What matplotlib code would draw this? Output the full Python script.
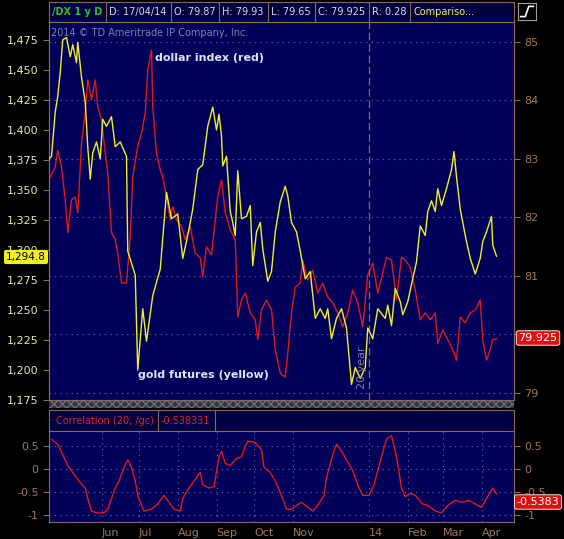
import matplotlib
matplotlib.use("Agg")
import matplotlib.pyplot as plt
import numpy as np
import datetime as dt
from matplotlib.patches import Rectangle

start = dt.date(2013, 4, 20)

gold_days = [0,2,5,7,9,11,14,17,19,22,23,26,29,31,33,35,38,41,43,46,50,53,57,62,63,69,71,75,78,83,89,94,98,103,107,111,115,119,123,127,131,134,136,138,139,142,145,147,149,151,154,158,161,163,166,169,171,175,178,181,185,189,191,194,198,201,205,209,213,217,221,223,226,230,234,238,242,245,249,253,255,259,263,269,271,274,277,281,283,287,291,294,297,301,303,306,309,311,314,318,322,324,326,329,333,337,341,345,347,350,354,355,358]
gold = [1376,1378,1415,1428,1448,1475,1477,1461,1471,1456,1473,1444,1423,1386,1359,1381,1390,1376,1409,1403,1411,1386,1390,1378,1299,1279,1200,1251,1224,1262,1284,1348,1326,1330,1293,1312,1334,1367,1371,1403,1419,1400,1413,1395,1370,1378,1332,1323,1312,1366,1326,1328,1337,1287,1315,1323,1301,1274,1282,1315,1340,1353,1345,1323,1315,1299,1276,1282,1243,1251,1243,1251,1226,1243,1251,1235,1188,1202,1193,1202,1235,1226,1251,1243,1254,1237,1268,1257,1246,1257,1276,1290,1320,1312,1332,1341,1332,1351,1337,1351,1367,1382,1361,1334,1312,1293,1280,1293,1307,1315,1328,1304,1294.8]

dx_days = [1,5,7,10,13,15,18,21,23,25,26,29,31,34,37,39,42,45,47,50,53,55,58,62,65,67,71,74,77,79,82,83,86,89,91,94,97,99,102,106,109,113,117,121,123,126,130,133,135,138,141,145,149,151,154,157,161,165,167,170,174,178,181,185,189,191,194,197,201,203,207,211,215,219,223,227,231,235,239,243,247,251,255,259,263,267,270,274,278,282,285,289,293,297,301,305,309,311,315,319,323,326,329,333,337,341,345,347,350,353,355,358]
dx = [82.69,82.86,83.15,82.86,82.30,81.74,82.30,82.35,82.08,82.86,83.27,83.79,84.35,84.01,84.35,83.89,83.67,83.10,82.76,81.74,81.62,81.39,80.88,80.88,81.67,82.69,83.21,83.44,83.79,84.52,84.86,83.89,83.10,82.81,82.69,82.35,81.96,82.18,81.96,81.84,81.62,81.84,81.39,81.31,80.98,81.50,81.36,81.96,82.35,82.64,82.08,81.79,81.62,80.30,80.59,80.71,80.37,80.25,79.91,80.42,80.59,80.42,79.74,79.34,79.27,79.68,80.37,80.81,80.88,81.27,80.93,81.10,80.71,80.88,80.64,80.54,80.37,80.13,80.37,80.76,80.54,80.13,81.02,81.22,80.71,81.05,81.32,81.27,80.59,81.32,81.27,81.15,80.76,80.25,80.37,80.25,80.37,79.85,80.08,79.91,79.74,79.56,80.30,80.20,80.37,80.42,80.59,79.91,79.56,79.74,79.91,79.925]

corr_days = [2,7,11,15,20,24,29,31,34,38,44,47,50,53,56,60,63,66,69,71,76,82,87,92,96,100,105,107,112,116,121,123,128,132,136,138,141,145,150,154,157,159,165,170,172,177,181,186,190,194,198,202,207,211,215,220,222,227,230,234,238,243,247,251,256,260,263,266,270,274,278,282,285,289,293,299,303,309,314,319,325,330,336,341,346,350,355,358]
corr = [0.65,0.54,0.31,0.08,-0.11,-0.26,-0.41,-0.64,-0.91,-0.95,-0.95,-0.87,-0.64,-0.41,-0.26,0.04,0.20,0.04,-0.26,-0.57,-0.91,-0.87,-0.76,-0.57,-0.72,-0.87,-0.91,-0.64,-0.41,-0.26,-0.07,-0.34,-0.41,-0.38,0.27,0.39,0.12,0.08,0.23,0.27,0.50,0.61,0.58,0.42,0.04,-0.07,-0.26,-0.57,-0.87,-0.87,-0.79,-0.72,-0.83,-0.91,-0.79,-0.57,-0.19,0.31,0.54,0.39,0.20,-0.03,-0.34,-0.57,-0.57,-0.34,-0.03,0.27,0.65,0.73,0.27,-0.41,-0.60,-0.53,-0.57,-0.76,-0.79,-0.91,-0.95,-0.79,-0.68,-0.72,-0.68,-0.76,-0.83,-0.64,-0.41,-0.5383]

gold_ticks = list(range(1175, 1476, 25))
dx_ticks = [79, 80, 81, 82, 83, 84, 85]
corr_ticks = [-1, -0.5, 0, 0.5]
month_labels = ["Jun", "Jul", "Aug", "Sep", "Oct", "Nov", "14", "Feb", "Mar", "Apr"]
month_dates = [dt.date(2013,6,1), dt.date(2013,7,1), dt.date(2013,8,1), dt.date(2013,9,1), dt.date(2013,10,1),
               dt.date(2013,11,1), dt.date(2014,1,1), dt.date(2014,2,1), dt.date(2014,3,1), dt.date(2014,4,1)]
header_cells = ["/DX 1 y D", "D: 17/04/14", "O: 79.87", "H: 79.93", "L: 79.65", "C: 79.925", "R: 0.28", "Compariso..."]

def todates(days):
    return [start + dt.timedelta(days=d) for d in days]

W, H = 564, 539
BG = "#00005a"
SP = "#8a6a50"
TICKC = "#a07858"
fig = plt.figure(figsize=(W/100, H/100), dpi=100, facecolor="black")

def fx(px): return px / W
def fy(py): return 1 - py / H

xl = (start, start + dt.timedelta(days=372))

ax = fig.add_axes([fx(49), fy(400), fx(514-49), (400-22)/H], facecolor=BG)
ax2 = ax.twinx()
ax.set_zorder(2); ax2.set_zorder(1)
ax.patch.set_visible(False)
ax2.set_facecolor(BG)
ax2.patch.set_visible(True)
ax.plot(todates(gold_days), gold, color="#f0f020", lw=1.0, zorder=3)
ax2.plot(todates(dx_days), dx, color="#e01818", lw=1.0)
ax.set_xlim(*xl)
ax.set_ylim(1176.7, 1489.9)
ax2.set_ylim(78.88, 85.34)
ax.set_yticks(gold_ticks)
ax.set_yticklabels([f"{v:,}" for v in gold_ticks], fontsize=8)
ax2.set_yticks(dx_ticks)
ax2.set_yticklabels([str(v) for v in dx_ticks], fontsize=8)
for a in (ax, ax2):
    a.set_xticks(month_dates)
    a.tick_params(axis="x", labelbottom=False, length=0)
    a.tick_params(axis="y", colors=SP, length=4)
    for s in a.spines.values():
        s.set_color(SP)
ax.tick_params(axis="y", labelcolor="#e8e8b0")
ax2.tick_params(axis="y", labelcolor=TICKC)
ax2.grid(True, color="#7070a0", ls=(0, (1, 4)), lw=0.8)
ax.axvline(dt.date(2014,1,1), color=SP, ls=(0, (6, 3)), lw=0.9, zorder=1)

ax.text(0.005, 0.985, "2014 © TD Ameritrade IP Company, Inc.", transform=ax.transAxes,
        color="#8080a8", fontsize=7, va="top", ha="left")
ax.text((155-49)/465, 1-(58-22)/378, "dollar index (red)", transform=ax.transAxes,
        color="#e0e0f0", fontsize=8, fontweight="bold", va="center")
ax.text((138-49)/465, 1-(375-22)/378, "gold futures (yellow)", transform=ax.transAxes,
        color="#e0e0f0", fontsize=8, fontweight="bold", va="center")
ax.text((362-49)/465, 1-(368-22)/378, "20 year", transform=ax.transAxes, rotation=90,
        color="#8080a0", fontsize=8, va="center", ha="center")

fig.text(fx(26), fy(257), "1,294.8", color="black", fontsize=7.5, ha="center", va="center", zorder=10,
         bbox=dict(boxstyle="round,pad=0.2", fc="#f0f020", ec="none"))
fig.text(fx(538), fy(338), "79.925", color="white", fontsize=8, ha="center", va="center", zorder=10,
         bbox=dict(boxstyle="round,pad=0.2", fc="#e01010", ec="white", lw=0.6))

hb = fig.add_axes([fx(49), fy(22), fx(465), 20/H], facecolor="#000040")
hb.set_xlim(49, 514); hb.set_ylim(0, 1)
hb.set_xticks([]); hb.set_yticks([])
for s in hb.spines.values(): s.set_color(SP)
bounds = [49, 106, 171, 219, 268, 315, 369, 410, 514]
for i, t in enumerate(header_cells):
    if i > 0:
        hb.axvline(bounds[i], color=SP, lw=0.8)
    col = "#30c030" if i == 0 else ("#f0f060" if i == len(header_cells)-1 else "#d8d8e8")
    hb.text(bounds[i] + (bounds[i+1]-bounds[i])/2 if i == 0 else bounds[i] + 3, 0.5, t,
            color=col, fontsize=7, va="center", ha="center" if i == 0 else "left",
            fontweight="bold" if i == 0 else "normal")
ib = fig.add_axes([fx(518), fy(20), fx(18), 17/H], facecolor="black")
ib.set_xticks([]); ib.set_yticks([])
for s in ib.spines.values(): s.set_color("#a0a0a0")
ib.plot([0.15, 0.4, 0.6, 0.85], [0.2, 0.2, 0.8, 0.8], color="white", lw=1.2)
ib.set_xlim(0, 1); ib.set_ylim(0, 1)

sep = fig.add_axes([fx(49), fy(408), fx(465), 7/H], facecolor="#303050")
sep.set_xticks([]); sep.set_yticks([])
sep.add_patch(Rectangle((0, 0), 1, 1, transform=sep.transAxes, fill=False, hatch="xxxx", ec="#707070", lw=0))
for s in sep.spines.values(): s.set_visible(False)

lh = fig.add_axes([fx(49), fy(431), fx(465), 21/H], facecolor="#000040")
lh.set_xlim(49, 514); lh.set_ylim(0, 1)
lh.set_xticks([]); lh.set_yticks([])
for s in lh.spines.values(): s.set_color(SP)
lh.axvline(158, color=SP, lw=0.8); lh.axvline(215, color=SP, lw=0.8)
lh.text(56, 0.5, "Correlation (20, /gc)", color="#e02020", fontsize=7, va="center")
lh.text(161, 0.5, "-0.538331", color="#e02020", fontsize=7, va="center")

bx = fig.add_axes([fx(49), fy(522), fx(465), (522-431)/H], facecolor=BG)
bx.plot(todates(corr_days), corr, color="#e01818", lw=1.0)
bx.set_xlim(*xl)
bx.set_ylim(-1.15, 0.83)
bx.set_yticks(corr_ticks)
bx.set_yticklabels(["-1", "-0.5", "0", "0.5"], fontsize=8)
bx.tick_params(axis="y", colors=SP, labelcolor=TICKC, length=4, labelright=True, right=True)
bx.set_xticks(month_dates)
bx.set_xticklabels(month_labels, fontsize=8)
bx.tick_params(axis="x", colors=SP, labelcolor=TICKC, length=0, pad=4)
for lab in bx.get_xticklabels():
    lab.set_horizontalalignment("left")
bx.grid(True, color="#7070a0", ls=(0, (1, 4)), lw=0.8)
for s in bx.spines.values(): s.set_color(SP)
fig.text(fx(538), fy(502), "-0.5383", color="white", fontsize=8, ha="center", va="center", zorder=10,
         bbox=dict(boxstyle="round,pad=0.2", fc="#e01010", ec="white", lw=0.6))

fig.savefig("out.png", dpi=100, facecolor="black")
